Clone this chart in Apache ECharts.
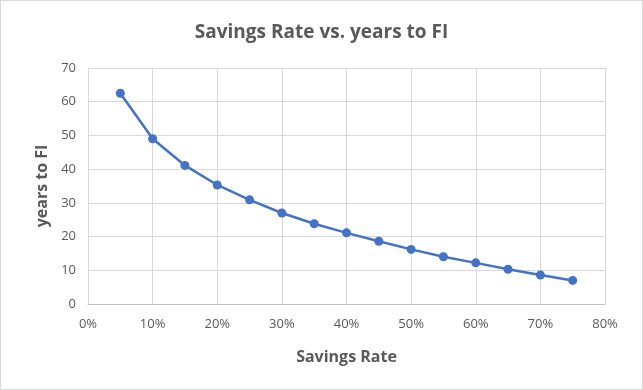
<!DOCTYPE html>
<html><head><meta charset="utf-8">
<script src="https://cdn.jsdelivr.net/npm/echarts@6/dist/echarts.min.js"></script>
<style>html,body{margin:0;padding:0;background:#fff}#c{width:643px;height:390px;box-sizing:border-box;border:1px solid #d9d9d9}</style>
</head><body><div id="c"></div>
<script>
const savingsRate = [5,10,15,20,25,30,35,40,45,50,55,60,65,70,75];
const yearsToFI = [62.5,49.0,41.1,35.3,30.9,27.0,23.8,21.1,18.6,16.2,14.0,12.2,10.3,8.6,7.0];
const title = 'Savings Rate vs. years to FI';
const xName = 'Savings Rate';
const yName = 'years to FI';
const font = 'Open Sans, Liberation Sans, sans-serif';
const chart = echarts.init(document.getElementById('c'));
chart.setOption({
  animation:false,
  title:{text:title,left:'center',top:17,textStyle:{fontFamily:font,fontSize:19,fontWeight:'bold',color:'#595959'}},
  grid:{left:87,right:37,top:67,bottom:85},
  xAxis:{type:'value',min:0,max:80,interval:10,name:xName,nameLocation:'middle',nameGap:45,
    nameTextStyle:{fontFamily:font,fontSize:16,fontWeight:'bold',color:'#595959'},
    axisLabel:{formatter:'{value}%',fontFamily:font,fontSize:13,color:'#595959',margin:14},
    axisLine:{show:true,lineStyle:{color:'#bfbfbf'}},axisTick:{show:false},
    splitLine:{show:true,lineStyle:{color:'#d9d9d9',width:1}}},
  yAxis:{type:'value',min:0,max:70,interval:10,name:yName,nameLocation:'middle',nameGap:38,
    nameTextStyle:{fontFamily:font,fontSize:16,fontWeight:'bold',color:'#595959'},
    axisLabel:{fontFamily:font,fontSize:13,color:'#595959',margin:12},
    axisLine:{show:false},axisTick:{show:false},
    splitLine:{show:true,lineStyle:{color:'#d9d9d9',width:1}}},
  series:[{type:'line',data:savingsRate.map((x,i)=>[x,yearsToFI[i]]),
    lineStyle:{color:'#4472C4',width:2.5},itemStyle:{color:'#4472C4'},
    symbol:'circle',symbolSize:9}]
});
</script></body></html>
